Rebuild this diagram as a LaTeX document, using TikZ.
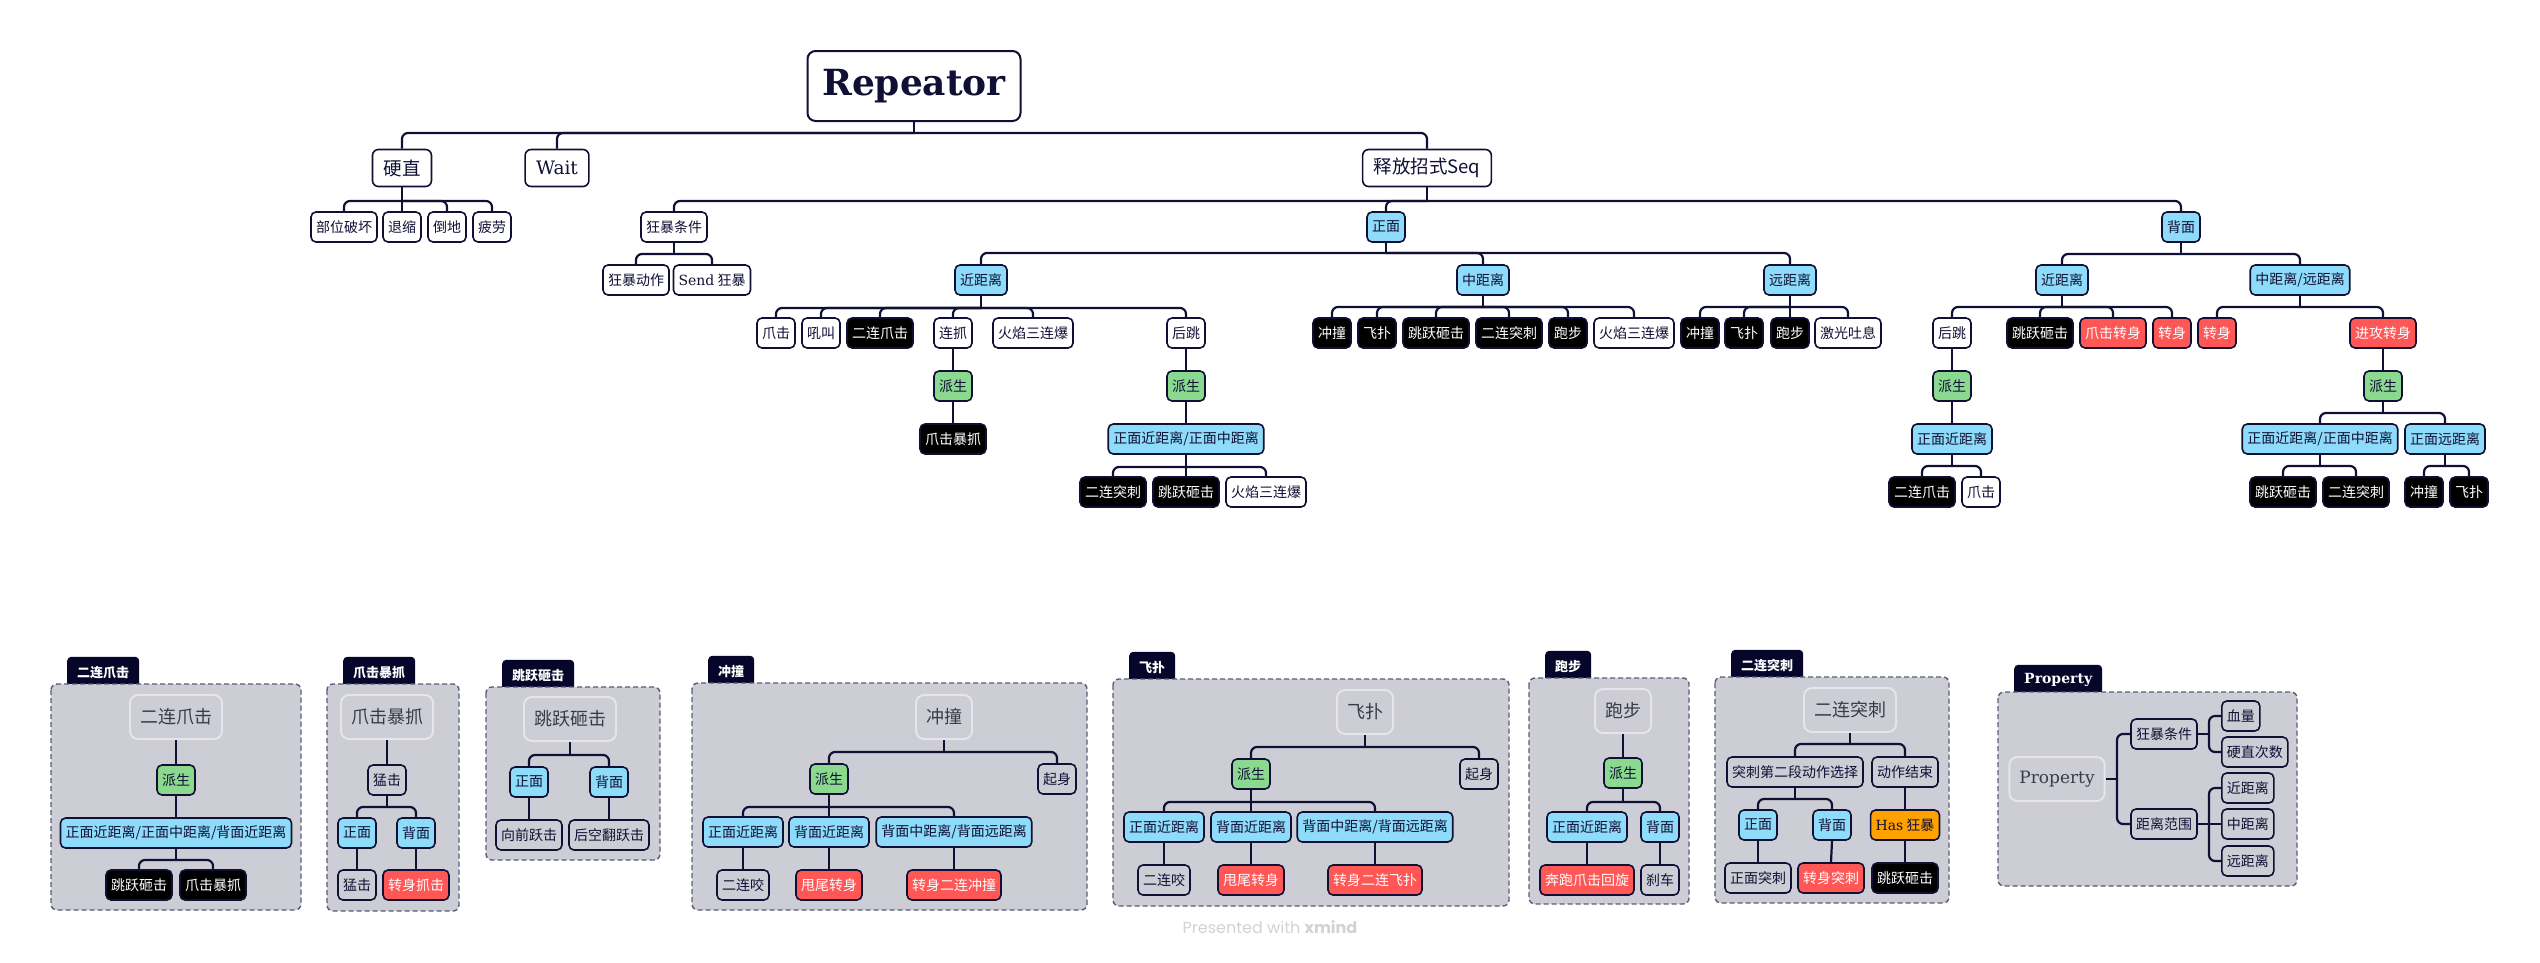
\documentclass[tikz,border=0pt]{standalone}
\usepackage{fontspec}
\setmainfont{DejaVu Serif}
\newfontfamily\cjk{Noto Sans CJK SC}
\newfontfamily\wmfont{Poppins}
\usetikzlibrary{positioning}

\definecolor{navy}{HTML}{101035}
\definecolor{skyb}{HTML}{8EDCF9}
\definecolor{leafc}{HTML}{8BD98E}
\definecolor{coral}{HTML}{FF5656}
\definecolor{amberc}{HTML}{FFA200}
\definecolor{panelbg}{HTML}{CDCDD5}
\definecolor{dashc}{HTML}{5A5A78}
\definecolor{titleline}{HTML}{E6E4EC}
\definecolor{titletext}{HTML}{3A3A4A}
\definecolor{tabc}{HTML}{06062A}
\definecolor{wmgrey}{HTML}{D2D2D2}

% parent, bar height, children
\newcommand{\kids}[3]{%
    \draw[link] (#1.south) -- (#1.south |- 0,#2);
    \foreach \k in {#3}{
        \draw[link] (#1.south |- 0,#2) -| (\k.north);
    }
}
% name, x1, y1, x2, y2, tab text
\newcommand{\panelbox}[6]{%
    \node[tab, anchor=south west] (#1) at (#2+16,#3+4) {#6};
    \draw[panel] (#2,#3) rectangle (#4,#5);
}

\tikzset{
    box/.style={draw=navy, line width=1.6pt, rounded corners=5pt, minimum height=30pt,
        inner xsep=5pt, inner ysep=0pt, text=navy, font=\cjk\fontsize{14}{15}\selectfont},
    plain/.style={box, fill=white},
    dark/.style={box, fill=black, text=white},
    sky/.style={box, fill=skyb},
    leaf/.style={box, fill=leafc},
    hot/.style={box, fill=coral, text=white},
    amber/.style={box, fill=amberc},
    flat/.style={box, fill=panelbg},
    big/.style={plain, minimum height=37pt, inner xsep=11pt, rounded corners=6pt,
        font=\cjk\fontsize{18.5}{20}\selectfont},
    rootbox/.style={plain, minimum width=213pt, minimum height=70pt, rounded corners=8pt,
        line width=2pt, font=\bfseries\fontsize{36}{40}\selectfont},
    head/.style={draw=titleline, line width=2pt, rounded corners=8pt, minimum height=44pt,
        inner xsep=10pt, text=titletext, font=\cjk\fontsize{18}{20}\selectfont},
    tab/.style={fill=tabc, rounded corners=4pt, minimum height=31pt, inner xsep=10pt,
        text=white, font=\cjk\bfseries\fontsize{13}{14}\selectfont},
    panel/.style={draw=dashc, fill=panelbg, line width=1.4pt, dash pattern=on 5pt off 3pt,
        rounded corners=6pt},
    link/.style={draw=navy, line width=2.2pt, rounded corners=6pt},
}

\begin{document}
\begin{tikzpicture}[x=1pt, y=-1pt]
    \useasboundingbox (0,0) rectangle (2540,962);

    % panels in the lower row
    \panelbox{tab1}{51}{684}{301}{910}{二连爪击}
    \panelbox{tab2}{327}{684}{459}{911}{爪击暴抓}
    \panelbox{tab3}{486}{687}{660}{860}{跳跃砸击}
    \panelbox{tab4}{692}{683}{1087}{910}{冲撞}
    \panelbox{tab5}{1113}{679}{1509}{906}{飞扑}
    \panelbox{tab6}{1529}{678}{1689}{904}{跑步}
    \panelbox{tab7}{1715}{677}{1949}{903}{二连突刺}
    \node[tab, anchor=south west, font=\bfseries\fontsize{14}{15}\selectfont] (tab8) at (2014,696) {Property};
    \draw[panel] (1998,692) rectangle (2297,886);

    % main tree
    \node[rootbox] (root) at (914,86) {Repeator};

    \node[big] (stiff) at (402,168) {硬直};
    \node[big, font=\fontsize{18.5}{20}\selectfont] (wait) at (557,168) {Wait};
    \node[big] (seq) at (1427,168) {释放招式Seq};
    \kids{root}{133}{stiff,wait,seq}

    \node[plain] (broken) at (344,227) {部位破坏};
    \node[plain] (shrink) at (402,227) {退缩};
    \node[plain] (fall) at (447,227) {倒地};
    \node[plain] (tired) at (492,227) {疲劳};
    \kids{stiff}{201}{broken,fall,tired}
    \draw[link] (stiff.south) -- (shrink.north);

    \node[plain] (rage) at (674,227) {狂暴条件};
    \node[sky] (front) at (1386,227) {正面};
    \node[sky] (back) at (2181,227) {背面};
    \kids{seq}{201}{rage,front,back}

    \node[plain] (rageact) at (636,280) {狂暴动作};
    \node[plain] (send) at (712,280) {{\rmfamily Send} 狂暴};
    \kids{rage}{254}{rageact,send}

    % front
    \node[sky] (fnear) at (981,280) {近距离};
    \node[sky] (fmid) at (1483,280) {中距离};
    \node[sky] (ffar) at (1790,280) {远距离};
    \kids{front}{253}{fnear,fmid,ffar}

    \node[plain] (fn1) at (776,333) {爪击};
    \node[plain] (fn2) at (821,333) {吼叫};
    \node[dark] (fn3) at (880,333) {二连爪击};
    \node[plain] (fn4) at (953,333) {连抓};
    \node[plain] (fn5) at (1033,333) {火焰三连爆};
    \node[plain] (fn6) at (1186,333) {后跳};
    \kids{fnear}{308}{fn1,fn2,fn3,fn4,fn5,fn6}

    \node[leaf] (fn4d) at (953,386) {派生};
    \node[dark] (fn4e) at (953,439) {爪击暴抓};
    \draw[link] (fn4.south) -- (fn4d.north);
    \draw[link] (fn4d.south) -- (fn4e.north);

    \node[leaf] (fn6d) at (1186,386) {派生};
    \node[sky] (fn6e) at (1186,439) {正面近距离/正面中距离};
    \draw[link] (fn6.south) -- (fn6d.north);
    \draw[link] (fn6d.south) -- (fn6e.north);
    \node[dark] (fn6a) at (1113,492) {二连突刺};
    \node[dark] (fn6b) at (1186,492) {跳跃砸击};
    \node[plain] (fn6c) at (1266,492) {火焰三连爆};
    \kids{fn6e}{467}{fn6a,fn6c}
    \draw[link] (fn6e.south) -- (fn6b.north);

    \node[dark] (fm1) at (1332,333) {冲撞};
    \node[dark] (fm2) at (1377,333) {飞扑};
    \node[dark] (fm3) at (1436,333) {跳跃砸击};
    \node[dark] (fm4) at (1509,333) {二连突刺};
    \node[dark] (fm5) at (1568,333) {跑步};
    \node[plain] (fm6) at (1634,333) {火焰三连爆};
    \kids{fmid}{307}{fm1,fm2,fm3,fm4,fm5,fm6}

    \node[dark] (ff1) at (1700,333) {冲撞};
    \node[dark] (ff2) at (1744,333) {飞扑};
    \node[dark] (ff3) at (1790,333) {跑步};
    \node[plain] (ff4) at (1848,333) {激光吐息};
    \kids{ffar}{307}{ff1,ff2,ff4}
    \draw[link] (ffar.south) -- (ff3.north);

    % back
    \node[sky] (bnear) at (2062,280) {近距离};
    \node[sky] (bfar) at (2300,280) {中距离/远距离};
    \kids{back}{254}{bnear,bfar}

    \node[plain] (bn1) at (1952,333) {后跳};
    \node[dark] (bn2) at (2040,333) {跳跃砸击};
    \node[hot] (bn3) at (2113,333) {爪击转身};
    \node[hot] (bn4) at (2172,333) {转身};
    \kids{bnear}{307}{bn1,bn2,bn3,bn4}

    \node[hot] (bf1) at (2217,333) {转身};
    \node[hot] (bf2) at (2383,333) {进攻转身};
    \kids{bfar}{307}{bf1,bf2}

    \node[leaf] (bn1d) at (1952,386) {派生};
    \node[sky] (bn1e) at (1952,439) {正面近距离};
    \draw[link] (bn1.south) -- (bn1d.north);
    \draw[link] (bn1d.south) -- (bn1e.north);
    \node[dark] (bn1a) at (1922,492) {二连爪击};
    \node[plain] (bn1b) at (1981,492) {爪击};
    \kids{bn1e}{466}{bn1a,bn1b}

    \node[leaf] (bf2d) at (2383,386) {派生};
    \draw[link] (bf2.south) -- (bf2d.north);
    \node[sky] (bf2a) at (2320,439) {正面近距离/正面中距离};
    \node[sky] (bf2b) at (2445,439) {正面远距离};
    \kids{bf2d}{413}{bf2a,bf2b}
    \node[dark] (bf2a1) at (2283,492) {跳跃砸击};
    \node[dark] (bf2a2) at (2356,492) {二连突刺};
    \kids{bf2a}{466}{bf2a1,bf2a2}
    \node[dark] (bf2b1) at (2424,492) {冲撞};
    \node[dark] (bf2b2) at (2469,492) {飞扑};
    \kids{bf2b}{466}{bf2b1,bf2b2}

    % panel 1
    \node[head] (t1) at (176,717) {二连爪击};
    \node[leaf] (t1a) at (176,780) {派生};
    \node[sky] (t1b) at (176,833) {正面近距离/正面中距离/背面近距离};
    \node[dark] (t1c) at (139,885) {跳跃砸击};
    \node[dark] (t1d) at (213,885) {爪击暴抓};
    \draw[link] (t1.south) -- (t1a.north);
    \draw[link] (t1a.south) -- (t1b.north);
    \kids{t1b}{860}{t1c,t1d}

    % panel 2
    \node[head] (t2) at (387,717) {爪击暴抓};
    \node[flat] (t2a) at (387,780) {猛击};
    \node[sky] (t2b) at (357,833) {正面};
    \node[sky] (t2c) at (416,833) {背面};
    \node[flat] (t2d) at (357,885) {猛击};
    \node[hot] (t2e) at (416,885) {转身抓击};
    \draw[link] (t2.south) -- (t2a.north);
    \kids{t2a}{807}{t2b,t2c}
    \draw[link] (t2b.south) -- (t2d.north);
    \draw[link] (t2c.south) -- (t2e.north);

    % panel 3
    \node[head] (t3) at (570,719) {跳跃砸击};
    \node[sky] (t3a) at (529,782) {正面};
    \node[sky] (t3b) at (609,782) {背面};
    \node[flat] (t3c) at (529,835) {向前跃击};
    \node[flat] (t3d) at (609,835) {后空翻跃击};
    \kids{t3}{755}{t3a,t3b}
    \draw[link] (t3a.south) -- (t3c.north);
    \draw[link] (t3b.south) -- (t3d.north);

    % panel 4
    \node[head] (t4) at (944,717) {冲撞};
    \node[leaf] (t4a) at (829,779) {派生};
    \node[flat] (t4b) at (1057,779) {起身};
    \kids{t4}{752}{t4a,t4b}
    \node[sky] (t4c) at (743,832) {正面近距离};
    \node[sky] (t4d) at (829,832) {背面近距离};
    \node[sky] (t4e) at (954,832) {背面中距离/背面远距离};
    \kids{t4a}{807}{t4c,t4e}
    \draw[link] (t4a.south) -- (t4d.north);
    \node[flat] (t4f) at (743,885) {二连咬};
    \node[hot] (t4g) at (829,885) {甩尾转身};
    \node[hot] (t4h) at (954,885) {转身二连冲撞};
    \draw[link] (t4c.south) -- (t4f.north);
    \draw[link] (t4d.south) -- (t4g.north);
    \draw[link] (t4e.south) -- (t4h.north);

    % panel 5
    \node[head] (t5) at (1365,712) {飞扑};
    \node[leaf] (t5a) at (1251,774) {派生};
    \node[flat] (t5b) at (1479,774) {起身};
    \kids{t5}{747}{t5a,t5b}
    \node[sky] (t5c) at (1164,827) {正面近距离};
    \node[sky] (t5d) at (1251,827) {背面近距离};
    \node[sky] (t5e) at (1375,827) {背面中距离/背面远距离};
    \kids{t5a}{802}{t5c,t5e}
    \draw[link] (t5a.south) -- (t5d.north);
    \node[flat] (t5f) at (1164,880) {二连咬};
    \node[hot] (t5g) at (1251,880) {甩尾转身};
    \node[hot] (t5h) at (1375,880) {转身二连飞扑};
    \draw[link] (t5c.south) -- (t5f.north);
    \draw[link] (t5d.south) -- (t5g.north);
    \draw[link] (t5e.south) -- (t5h.north);

    % panel 6
    \node[head] (t6) at (1623,711) {跑步};
    \node[leaf] (t6a) at (1623,773) {派生};
    \draw[link] (t6.south) -- (t6a.north);
    \node[sky] (t6b) at (1587,827) {正面近距离};
    \node[sky] (t6c) at (1660,827) {背面};
    \kids{t6a}{802}{t6b,t6c}
    \node[hot] (t6d) at (1587,880) {奔跑爪击回旋};
    \node[flat] (t6e) at (1660,880) {刹车};
    \draw[link] (t6b.south) -- (t6d.north);
    \draw[link] (t6c.south) -- (t6e.north);

    % panel 7
    \node[head] (t7) at (1850,710) {二连突刺};
    \node[flat, minimum width=136pt] (t7a) at (1795,772) {突刺第二段动作选择};
    \node[flat] (t7b) at (1905,772) {动作结束};
    \kids{t7}{744}{t7a,t7b}
    \node[sky] (t7c) at (1758,825) {正面};
    \node[sky] (t7d) at (1832,825) {背面};
    \kids{t7a}{799}{t7c,t7d}
    \node[amber] (t7e) at (1905,825) {{\rmfamily Has} 狂暴};
    \draw[link] (t7b.south) -- (t7e.north);
    \node[flat] (t7f) at (1758,878) {正面突刺};
    \node[hot] (t7g) at (1831,878) {转身突刺};
    \node[dark] (t7h) at (1905,878) {跳跃砸击};
    \draw[link] (t7c.south) -- (t7f.north);
    \draw[link] (t7d.south) -- (t7g.north);
    \draw[link] (t7e.south) -- (t7h.north);

    % panel 8
    \node[head, font=\fontsize{17}{20}\selectfont] (t8) at (2057,779) {Property};
    \node[flat] (t8a) at (2164,734) {狂暴条件};
    \node[flat] (t8b) at (2164,824) {距离范围};
    \node[flat, anchor=west] (t8c) at (2221,716) {血量};
    \node[flat, anchor=west] (t8d) at (2221,752) {硬直次数};
    \node[flat, anchor=west] (t8e) at (2221,788) {近距离};
    \node[flat, anchor=west] (t8f) at (2221,824) {中距离};
    \node[flat, anchor=west] (t8g) at (2221,861) {远距离};
    \coordinate (j8) at (2117,779);
    \coordinate (j8a) at (2209,734);
    \coordinate (j8b) at (2209,824);
    \draw[link] (t8.east) -- (j8);
    \foreach \k in {t8a,t8b}{\draw[link] (j8) |- (\k.west);}
    \draw[link] (t8a.east) -- (j8a);
    \foreach \k in {t8c,t8d}{\draw[link] (j8a) |- (\k.west);}
    \draw[link] (t8b.east) -- (j8b);
    \foreach \k in {t8e,t8g}{\draw[link] (j8b) |- (\k.west);}
    \draw[link] (j8b) -- (t8f.west);

    \node[font=\wmfont\fontsize{16}{18}\selectfont, text=wmgrey] (mark) at (1270,927) {Presented with \textbf{xmind}};
\end{tikzpicture}
\end{document}
